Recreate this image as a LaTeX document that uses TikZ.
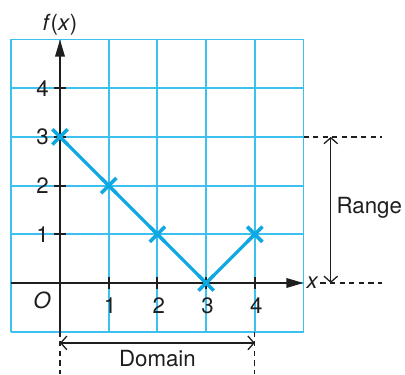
\documentclass[tikz,border=0pt]{standalone}
\usepackage{fontspec}
\setmainfont{TeX Gyre Heros}
\usepackage{xcolor}
\definecolor{grid_blue}{HTML}{3CC0EE}
\definecolor{curve_blue}{HTML}{0FA8E3}
\definecolor{ink_gray}{HTML}{1E1E1E}
\usetikzlibrary{arrows.meta,calc,positioning,shapes.misc}
\tikzset{GRID/.style={grid_blue, line width=1.1pt}}
\tikzset{AXIS/.style={ink_gray, line width=1.25pt, -{Triangle[length=10pt,width=5.5pt]}}}
\tikzset{TICK/.style={ink_gray, line width=1.25pt}}
\tikzset{CURVE/.style={curve_blue, line width=1.9pt}}
\tikzset{MARK/.style={cross out, draw=curve_blue, line width=2.1pt, minimum size=0.24cm, inner sep=0pt}}
\tikzset{MEASURE/.style={ink_gray, line width=0.75pt, {Straight Barb[length=3.5pt,width=8pt]}-{Straight Barb[length=3.5pt,width=8pt]}}}
\tikzset{GUIDE/.style={ink_gray, line width=0.75pt, dash pattern=on 3pt off 2.6pt}}
\tikzset{LABEL/.style={font=\fontsize{13}{15}\selectfont, text=ink_gray, inner sep=1pt}}

\begin{document}
\begin{tikzpicture}
\useasboundingbox (-1.232,-1.869) rectangle (7.084,5.811);

\draw[GRID] (-1,-1) grid (5,5);

\coordinate (c_origin) at (0,0);
\coordinate (c_x_start) at (-1,0);
\coordinate (c_x_end) at (5,0);
\coordinate (c_y_start) at (0,-1);
\coordinate (c_y_end) at (0,5);
\draw[AXIS] (c_x_start) -- (c_x_end);
\draw[AXIS] (c_y_start) -- (c_y_end);

\node[LABEL, right=0.02 of c_x_end] (n_x) {\textit{x}};
\node[LABEL, above=0.05 of c_y_end] (n_fx) {\textit{f}(\textit{x})};
\node[LABEL] (n_origin) at (-0.37,-0.36) {\textit{O}};

\foreach \i in {1,...,4} {
    \draw[TICK] (\i,-0.12) -- (\i,0.12);
    \draw[TICK] (-0.12,\i) -- (0.12,\i);
    \node[LABEL] (n_xtick_\i) at (\i+0.03,-0.46) {\i};
    \node[LABEL] (n_ytick_\i) at (-0.36,\i) {\i};
}

\coordinate (p_0) at (0,3);
\coordinate (p_1) at (1,2);
\coordinate (p_2) at (2,1);
\coordinate (p_3) at (3,0);
\coordinate (p_4) at (4,1);
\draw[CURVE] (p_0) -- (p_1) -- (p_2) -- (p_3) -- (p_4);
\foreach \k in {0,...,4} {
    \node[MARK] (m_\k) at (p_\k) {};
}

\coordinate (c_top_guide) at (6.62,3);
\coordinate (c_bottom_guide) at (6.62,0);
\draw[GUIDE] (5,3) -- (c_top_guide);
\draw[GUIDE] (n_x.east) -- (c_bottom_guide);

\coordinate (c_range_top) at (5.56,3);
\coordinate (c_range_bottom) at (5.56,0);
\draw[MEASURE] (c_range_top) -- (c_range_bottom);
\node[LABEL, anchor=west] (n_range) at ($(c_range_top)!0.5!(c_range_bottom)+(0.08,0.04)$) {Range};

\coordinate (c_dom_left) at (0,-1.23);
\coordinate (c_dom_right) at (4,-1.23);
\draw[MEASURE] (c_dom_left) -- (c_dom_right);
\node[LABEL] (n_domain) at ($(c_dom_left)!0.5!(c_dom_right)+(0,-0.32)$) {Domain};

\draw[GUIDE] (c_y_start) -- (0,-1.869);
\draw[GUIDE] (4,-1) -- (4,-1.869);

\end{tikzpicture}
\end{document}
